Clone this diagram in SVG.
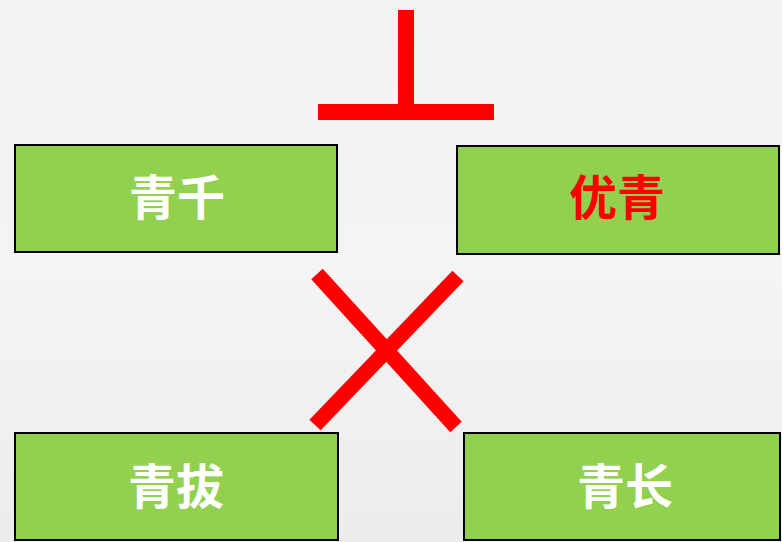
<svg xmlns="http://www.w3.org/2000/svg" width="782" height="542" viewBox="0 0 782 542">
<defs>
<linearGradient id="bg" x1="0" y1="0" x2="0" y2="1">
<stop offset="0" stop-color="#f2f2f2"/>
<stop offset="0.5" stop-color="#f4f4f4"/>
<stop offset="1" stop-color="#ececec"/>
</linearGradient>
</defs>
<style>
.box{fill:#92D050;stroke:#000;stroke-width:2}
.lbl{font-family:"Noto Sans CJK SC","Noto Sans",sans-serif;font-weight:bold;font-size:48px;text-anchor:middle;dominant-baseline:central}
.w{fill:#fff}
.r{fill:#ff0000}
.mark{stroke:#ff0000;stroke-width:15.5;fill:none;stroke-linecap:butt}
</style>
<rect x="0" y="0" width="782" height="542" fill="url(#bg)"/>
<g id="connectors">
<rect x="398" y="10" width="16" height="96" fill="#ff0000"/>
<rect x="318" y="104" width="176" height="16" fill="#ff0000"/>
<line class="mark" x1="317" y1="274" x2="456" y2="427"/>
<line class="mark" x1="458" y1="276" x2="315" y2="425"/>
</g>
<g id="node1">
<rect class="box" x="15" y="145" width="322" height="107"/>
<text class="lbl w" x="177" y="194">青千</text>
</g>
<g id="node2">
<rect class="box" x="457" y="146" width="322" height="108"/>
<text class="lbl r" x="617" y="194">优青</text>
</g>
<g id="node3">
<rect class="box" x="15" y="433" width="323" height="107"/>
<text class="lbl w" x="176" y="483">青拔</text>
</g>
<g id="node4">
<rect class="box" x="464" y="433" width="316" height="107"/>
<text class="lbl w" x="625" y="483">青长</text>
</g>
</svg>
